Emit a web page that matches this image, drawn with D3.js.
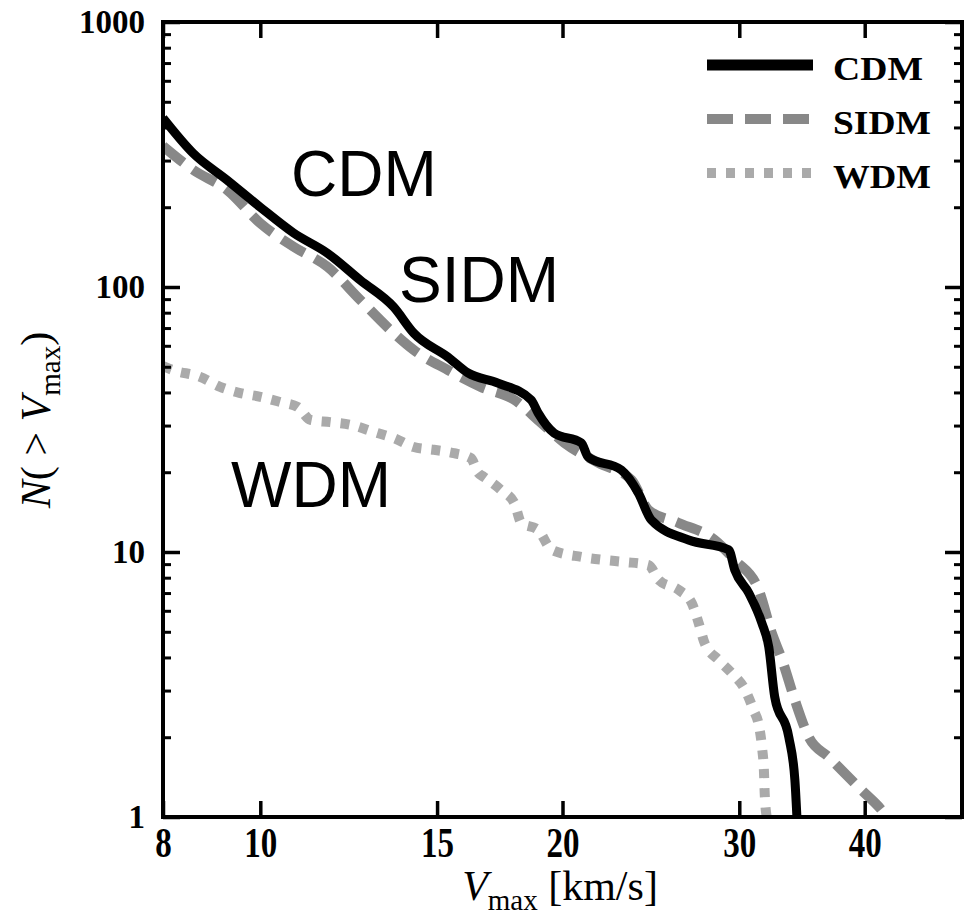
<!DOCTYPE html>
<html>
<head>
<meta charset="utf-8">
<script src="https://cdn.jsdelivr.net/npm/d3@7"></script>
<style>
  body { margin: 0; background: #fff; }
</style>
</head>
<body>
<svg id="chart" width="976" height="921"></svg>
<script>
// Cumulative subhalo velocity function N(>Vmax) for three dark-matter models
const xTicks = [8, 10, 15, 20, 30, 40];
const yTicks = [1, 10, 100, 1000];
const seriesNames = ["CDM", "SIDM", "WDM"];

const cdmV = [8.0, 8.57, 9.27, 10.0, 10.79, 11.67, 12.58, 13.58, 14.22, 15.38, 16.10, 17.25, 18.61, 18.91, 19.62, 20.88, 21.22, 22.89, 23.80, 24.52, 26.71, 29.28, 29.69, 30.66, 31.59, 32.10, 32.54, 33.61, 34.08, 34.24];
const cdmN = [434, 320, 253, 200, 160, 134, 106, 84, 67, 54.4, 47.4, 43.4, 37.5, 33.5, 28.1, 25.8, 22.8, 20.4, 16.7, 13.2, 11.1, 10.2, 8.55, 7.0, 5.4, 4.38, 2.84, 2.0, 1.38, 1.0];

const sidmV = [8.0, 8.57, 9.27, 10.0, 10.79, 11.67, 12.58, 13.58, 14.22, 15.38, 16.58, 17.91, 19.05, 20.09, 21.72, 23.43, 24.36, 26.07, 28.35, 29.69, 31.37, 32.32, 33.1, 34.08, 35.19, 36.85, 39.74, 41.6, 42.1];
const sidmN = [340, 277, 232, 174, 142, 119, 89.3, 67, 57.8, 48.6, 42.0, 37.5, 30.7, 25.8, 21.7, 18.7, 14.4, 12.9, 11.1, 9.33, 7.19, 4.95, 3.91, 2.76, 2.0, 1.68, 1.26, 1.06, 1.0];

const wdmV = [8.0, 8.18, 8.71, 9.12, 9.55, 10.0, 10.47, 10.89, 11.22, 11.74, 12.30, 12.97, 13.58, 14.22, 14.89, 15.59, 16.21, 16.48, 16.70, 17.38, 17.91, 18.19, 18.92, 19.50, 20.89, 22.02, 23.06, 24.37, 24.94, 26.11, 26.9, 27.33, 27.71, 28.62, 29.49, 30.4, 31.0, 31.4, 31.6, 31.75, 31.8, 31.95];
const wdmN = [50.3, 48.6, 45.8, 42.0, 39.8, 38.5, 36.8, 35.3, 31.5, 30.9, 30.2, 28.4, 26.9, 24.9, 24.3, 23.6, 22.6, 19.9, 19.2, 17.1, 15.3, 12.9, 12.1, 10.2, 9.58, 9.33, 9.17, 8.93, 7.84, 7.19, 6.42, 5.4, 4.53, 3.91, 3.49, 3.02, 2.53, 2.19, 1.84, 1.47, 1.23, 1.0];

const series = [
  { name: seriesNames[0], v: cdmV, n: cdmN, color: "#000000", width: 9, dash: null },
  { name: seriesNames[1], v: sidmV, n: sidmN, color: "#888888", width: 10, dash: "26,12" },
  { name: seriesNames[2], v: wdmV, n: wdmN, color: "#aaaaaa", width: 10, dash: "9,10" }
];

const svg = d3.select("#chart");
const plot = { left: 163, right: 962, top: 22, bottom: 817 };

const x = d3.scaleLog().domain([8, 50]).range([plot.left, plot.right]);
const y = d3.scaleLog().domain([1, 1000]).range([plot.bottom, plot.top]);

const yMinor = [];
for (const dec of [1, 10, 100]) for (let k = 2; k <= 9; k++) yMinor.push(dec * k);

const serif = "'Liberation Serif', 'DejaVu Serif', serif";

svg.append("defs").append("clipPath").attr("id", "plotClip")
  .append("rect")
  .attr("x", plot.left).attr("y", plot.top)
  .attr("width", plot.right - plot.left).attr("height", plot.bottom - plot.top);

// curves
const line = d3.line()
  .x(d => x(d[0])).y(d => y(d[1]))
  .curve(d3.curveMonotoneX);
const curves = svg.append("g").attr("clip-path", "url(#plotClip)");
// lighter series first so the black CDM line sits on top
[series[2], series[1], series[0]].forEach(s => {
  curves.append("path")
    .datum(s.v.map((v, i) => [v, s.n[i]]))
    .attr("d", line)
    .attr("fill", "none")
    .attr("stroke", s.color)
    .attr("stroke-width", s.width)
    .attr("stroke-dasharray", s.dash)
    .attr("stroke-linejoin", "round");
});

// axes with inward ticks
function styleAxis(g, w) {
  g.select(".domain").remove();
  g.selectAll(".tick line").attr("stroke", "#000").attr("stroke-width", w);
}

const fmt = d3.format("d");

svg.append("g").attr("transform", `translate(${plot.left},0)`)
  .call(d3.axisLeft(y).tickValues(yTicks).tickSize(-17).tickPadding(18).tickFormat(fmt))
  .call(g => styleAxis(g, 3.5))
  .call(g => g.selectAll("text")
    .attr("font-family", serif).attr("font-weight", "bold")
    .attr("font-size", 33).attr("fill", "#000"));

svg.append("g").attr("transform", `translate(${plot.left},0)`)
  .call(d3.axisLeft(y).tickValues(yMinor).tickSize(-8).tickFormat(""))
  .call(g => styleAxis(g, 3));

svg.append("g").attr("transform", `translate(${plot.right},0)`)
  .call(d3.axisRight(y).tickValues(yTicks).tickSize(-17).tickFormat(""))
  .call(g => styleAxis(g, 3.5));

svg.append("g").attr("transform", `translate(${plot.right},0)`)
  .call(d3.axisRight(y).tickValues(yMinor).tickSize(-8).tickFormat(""))
  .call(g => styleAxis(g, 3));

svg.append("g").attr("transform", `translate(0,${plot.bottom})`)
  .call(d3.axisBottom(x).tickValues(xTicks).tickSize(-16).tickFormat(fmt))
  .call(g => styleAxis(g, 3.5))
  .call(g => g.selectAll("text")
    .attr("y", 0).attr("dy", null)
    .attr("transform", "translate(0,40) scale(1,1.27)")
    .attr("font-family", serif).attr("font-weight", "bold")
    .attr("font-size", 33).attr("fill", "#000"));

svg.append("g").attr("transform", `translate(0,${plot.top})`)
  .call(d3.axisTop(x).tickValues(xTicks).tickSize(-16).tickFormat(""))
  .call(g => styleAxis(g, 3.5));

// frame
svg.append("rect")
  .attr("x", plot.left).attr("y", plot.top)
  .attr("width", plot.right - plot.left).attr("height", plot.bottom - plot.top)
  .attr("fill", "none").attr("stroke", "#000").attr("stroke-width", 4);

// axis titles
const xl = svg.append("text")
  .attr("x", 560).attr("y", 900)
  .attr("text-anchor", "middle")
  .attr("font-family", serif).attr("font-size", 42).attr("fill", "#000");
xl.append("tspan").attr("font-style", "italic").text("V");
xl.append("tspan").attr("font-size", 29).attr("dy", 10).text("max");
xl.append("tspan").attr("dy", -10).text(" [km/s]");

const yl = svg.append("text")
  .attr("transform", "translate(50,420) rotate(-90)")
  .attr("text-anchor", "middle")
  .attr("font-family", serif).attr("font-size", 42).attr("fill", "#000");
yl.append("tspan").attr("font-style", "italic").text("N");
yl.append("tspan").text("( > ");
yl.append("tspan").attr("font-style", "italic").text("V");
yl.append("tspan").attr("font-size", 29).attr("dy", 10).text("max");
yl.append("tspan").attr("dy", -10).text(")");

// legend
const legendY = [65, 119, 173];
const legend = svg.append("g");
series.forEach((s, i) => {
  legend.append("line")
    .attr("x1", 707).attr("x2", 813)
    .attr("y1", legendY[i]).attr("y2", legendY[i])
    .attr("stroke", s.color)
    .attr("stroke-width", i === 0 ? 11 : 10)
    .attr("stroke-dasharray", s.dash);
  legend.append("text")
    .attr("x", 833).attr("y", legendY[i] + 15)
    .attr("font-family", serif).attr("font-weight", "bold")
    .attr("font-size", 33).attr("fill", "#000")
    .attr("textLength", i === 0 ? 90 : 98)
    .attr("lengthAdjust", "spacingAndGlyphs")
    .text(s.name);
});

// in-plot labels
const sans = "'Liberation Sans', Arial, Helvetica, sans-serif";
const notes = [
  { text: seriesNames[0], x: 291, y: 196 },
  { text: seriesNames[1], x: 399, y: 302 },
  { text: seriesNames[2], x: 231, y: 507 }
];
svg.append("g").selectAll("text").data(notes).join("text")
  .attr("x", d => d.x).attr("y", d => d.y)
  .attr("font-family", sans).attr("font-size", 64).attr("fill", "#000")
  .text(d => d.text);
</script>
</body>
</html>
